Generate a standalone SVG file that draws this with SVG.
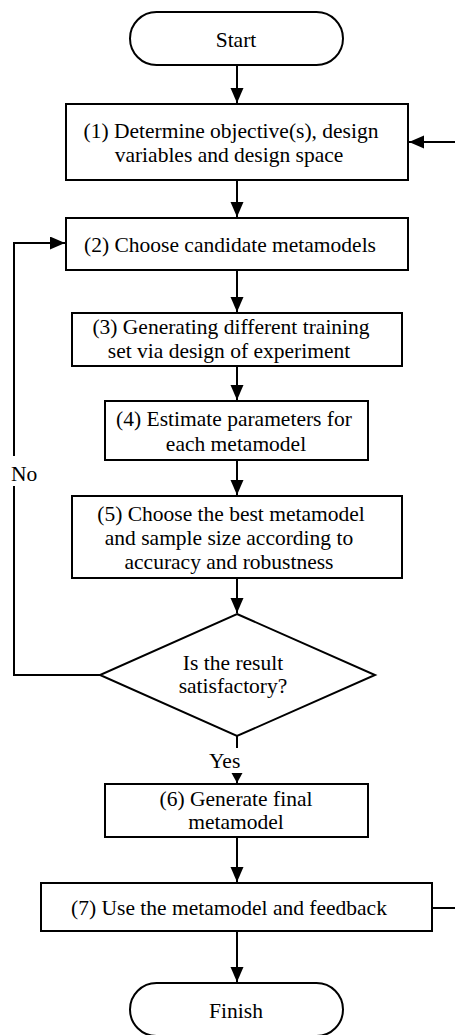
<svg xmlns="http://www.w3.org/2000/svg" width="455" height="1035" viewBox="0 0 455 1035">
<style>
.s{fill:#fff;stroke:#000;stroke-width:2}
.c{fill:none;stroke:#000;stroke-width:2}
text{font-family:"Liberation Serif","Times New Roman",serif;font-size:21.5px;fill:#000;text-anchor:middle}
</style>
<defs>
<marker id="ah" markerUnits="userSpaceOnUse" markerWidth="16" markerHeight="14" refX="15" refY="6.5" orient="auto">
<path d="M0,0 L15,6.5 L0,13 z" fill="#000"/>
</marker>
<marker id="ahs" markerUnits="userSpaceOnUse" markerWidth="12" markerHeight="12" refX="10" refY="5.5" orient="auto">
<path d="M0,0 L10,5.5 L0,11 z" fill="#000"/>
</marker>
</defs>
<g id="connectors">
<path class="c" d="M237,65 V103" marker-end="url(#ah)"/>
<path class="c" d="M237,180 V217" marker-end="url(#ah)"/>
<path class="c" d="M237,270 V312" marker-end="url(#ah)"/>
<path class="c" d="M237,366 V400" marker-end="url(#ah)"/>
<path class="c" d="M237,460 V495" marker-end="url(#ah)"/>
<path class="c" d="M237,578 V613" marker-end="url(#ah)"/>
<path class="c" d="M100,675 H14 V243 H65" marker-end="url(#ah)"/>
<path class="c" d="M237,736 V783" marker-end="url(#ahs)"/>
<path class="c" d="M237,837 V882" marker-end="url(#ah)"/>
<path class="c" d="M237,931 V982" marker-end="url(#ah)"/>
<path class="c" d="M432,908 H458 V142 H409" marker-end="url(#ah)"/>
<rect x="6" y="456" width="34" height="30" fill="#fff"/>
<text x="11" y="481" style="text-anchor:start">No</text>
<rect x="205" y="748" width="42" height="25" fill="#fff"/>
<text x="209" y="768" style="text-anchor:start">Yes</text>
</g>
<g id="start">
<rect class="s" x="130" y="12" width="213" height="53" rx="26.5"/>
<text x="236" y="46.5">Start</text>
</g>
<g id="step1">
<rect class="s" x="66" y="104" width="342" height="76"/>
<text x="231" y="138">(1) Determine objective(s), design</text>
<text x="229" y="162">variables and design space</text>
</g>
<g id="step2">
<rect class="s" x="66" y="218" width="342" height="52"/>
<text x="230" y="252">(2) Choose candidate metamodels</text>
</g>
<g id="step3">
<rect class="s" x="72" y="313" width="330" height="53"/>
<text x="231" y="334">(3) Generating different training</text>
<text x="229" y="358">set via design of experiment</text>
</g>
<g id="step4">
<rect class="s" x="105" y="401" width="263" height="59"/>
<text x="234" y="426">(4) Estimate parameters for</text>
<text x="236" y="451">each metamodel</text>
</g>
<g id="step5">
<rect class="s" x="72" y="496" width="330" height="82"/>
<text x="231" y="521">(5) Choose the best metamodel</text>
<text x="229" y="545">and sample size according to</text>
<text x="229" y="569">accuracy and robustness</text>
</g>
<g id="decision">
<polygon class="s" points="237,614 375,675 237,736 100,675"/>
<text x="233" y="670">Is the result</text>
<text x="233" y="693">satisfactory?</text>
</g>
<g id="step6">
<rect class="s" x="105" y="784" width="263" height="53"/>
<text x="236" y="806">(6) Generate final</text>
<text x="236" y="829">metamodel</text>
</g>
<g id="step7">
<rect class="s" x="41" y="883" width="391" height="48"/>
<text x="229" y="915">(7) Use the metamodel and feedback</text>
</g>
<g id="finish">
<rect class="s" x="130" y="983" width="213" height="53" rx="26.5"/>
<text x="236" y="1018">Finish</text>
</g>
</svg>
